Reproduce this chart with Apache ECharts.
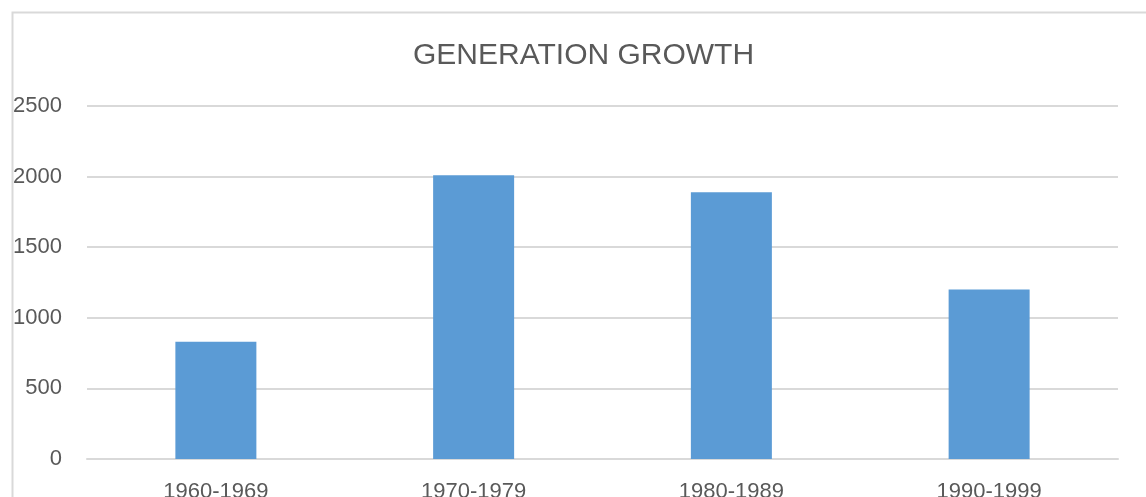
<!DOCTYPE html>
<html>
<head>
<meta charset="utf-8">
<script src="https://cdn.jsdelivr.net/npm/echarts@6/dist/echarts.min.js"></script>
<style>
  html, body { margin: 0; padding: 0; background: #fff; }
  #chart { width: 1146px; height: 497px; }
</style>
</head>
<body>
<div id="chart"></div>
<script>
var decades = ['1960-1969', '1970-1979', '1980-1989', '1990-1999'];
var growth = [830, 2010, 1890, 1200];
var yTicks = [0, 500, 1000, 1500, 2000, 2500];

var chart = echarts.init(document.getElementById('chart'), null, { renderer: 'canvas' });
var font = '"Liberation Sans", Arial, sans-serif';

var option = {
  animation: false,
  // excel-ish chart border, cut off at right/bottom
  graphic: [{
    type: 'rect',
    left: 10, top: 10,
    shape: { width: 1200, height: 600 },
    style: { fill: 'none', stroke: '#d9d9d9', lineWidth: 2 }
  }],
  title: {
    text: 'GENERATION GROWTH',
    left: 413,
    top: 41,
    padding: 0,
    textStyle: { fontFamily: font, fontSize: 30, fontWeight: 'normal', color: '#595959' }
  },
  grid: {
    left: 87, right: 28, top: 106, bottom: 38,
    containLabel: false,
    outerBoundsMode: 'none'
  },
  xAxis: {
    type: 'category',
    data: decades,
    axisLine: { lineStyle: { color: '#d9d9d9', width: 2 } },
    axisTick: { show: false },
    axisLabel: { fontFamily: font, fontSize: 22, color: '#595959', margin: 22 }
  },
  yAxis: {
    type: 'value',
    min: yTicks[0],
    max: yTicks[yTicks.length - 1],
    interval: 500,
    axisLine: { show: false },
    axisTick: { show: false },
    axisLabel: {
      fontFamily: font, fontSize: 22, color: '#595959', margin: 25,
      formatter: function (v) { return String(v); }
    },
    splitLine: { lineStyle: { color: '#d9d9d9', width: 2 } }
  },
  series: [{
    type: 'bar',
    data: growth,
    barWidth: 81,
    itemStyle: { color: '#5b9bd5' }
  }]
};

chart.setOption(option);
</script>
</body>
</html>
